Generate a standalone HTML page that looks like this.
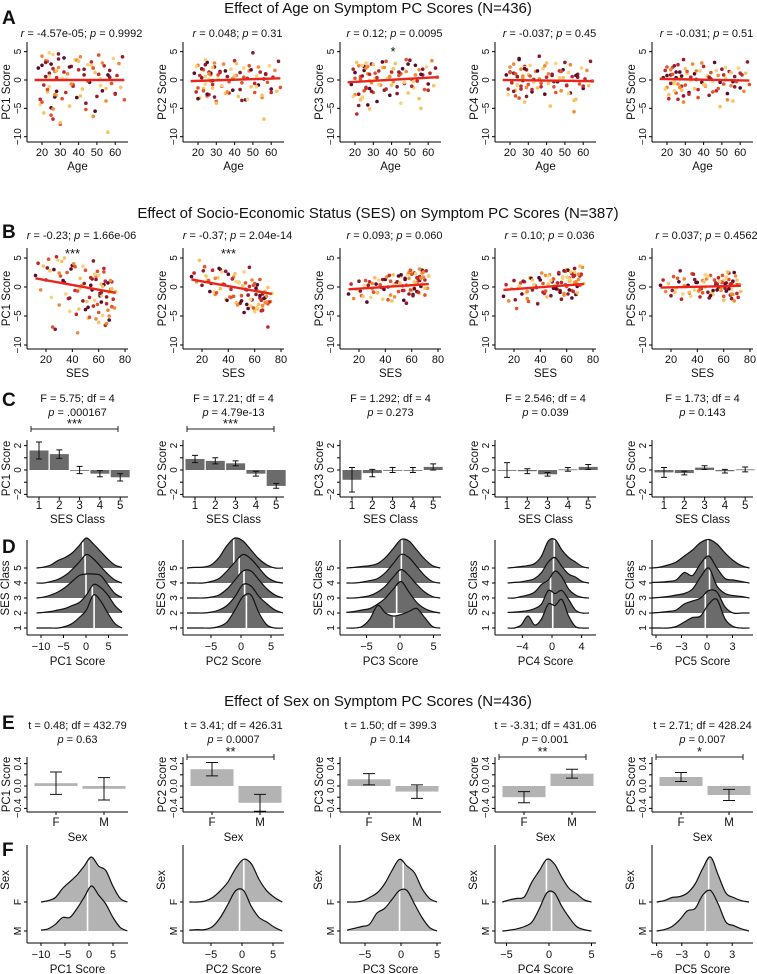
<!DOCTYPE html>
<html><head><meta charset="utf-8">
<style>
html,body{margin:0;padding:0;background:#fff;}
svg{display:block;font-family:"Liberation Sans",Arial,sans-serif;}
</style></head>
<body>
<svg id="fig" width="757" height="974" viewBox="0 0 757 974"></svg>
<script>
// ---------- DATA ----------
const pcNames=["PC1","PC2","PC3","PC4","PC5"];
const ages=[18,19,20,21,22,23,24,25,26,27,28,29,30,31,32,33,34,35,36,37,38,39,40,41,42,43,44,45,46,47,48,49,50,51,52,53,54,55,56,57,58,59,60,61,62,63,64,65,
 19,20,21,22,23,24,25,26,27,28,29,30,22,23,24,25,26,27,28,29,31,33,35,37,39,41,43,45,47,49,51,53,55,57,20,24,28,32,36,40,44,48,52,56,60,26,30,34];
const agePC1=[2.1,-3.4,4.2,-5.8,0.6,3.3,-1.2,2.8,-6.9,1.5,-2.7,4.6,-7.8,0.3,3.9,-2.2,1.1,-4.6,2.4,-0.8,3.6,-3.1,1.8,4.1,-1.6,0.9,-5.2,2.7,-0.4,3.2,-6.4,1.3,-2.9,4.4,0.2,-1.9,2.5,-3.7,-9.2,1.7,-0.6,3.8,-2.4,0.8,2.9,-1.3,4.1,-3.5,
 -4.3,2.6,-0.9,3.4,-2.1,1.2,-6.2,4.5,-3.0,0.4,2.2,-7.5,3.1,-1.7,0.7,-4.9,2.0,-2.6,1.6,3.7,-3.3,0.1,2.3,-1.1,3.5,-2.8,1.9,-0.2,2.6,-5.5,1.0,3.0,-1.5,0.5,-3.9,4.8,-2.0,1.4,-0.7,3.3,-4.1,2.1,-1.0,0.9,-2.5,-5.1];
const agePC2=[1.2,-2.1,2.6,-3.2,0.4,1.8,-0.7,3.1,-2.6,0.9,-1.4,2.3,-3.8,0.2,1.5,-1.1,2.8,-2.4,0.6,-0.3,1.9,-1.8,3.4,0.8,-2.9,1.3,-0.5,2.1,-3.5,0.3,1.6,-1.2,4.8,-2.2,0.7,-0.9,1.4,-3.1,-6.9,1.1,-0.4,2.5,-1.6,0.5,1.7,-2.0,3.3,-1.3,
 2.4,-3.3,0.8,1.9,-1.5,2.7,-2.8,0.1,1.2,-0.8,3.0,-4.1,2.0,-1.9,0.6,-2.5,1.4,-0.2,2.2,-3.0,0.9,-1.0,1.6,-2.3,0.3,2.9,-1.7,0.5,-3.4,1.8,-0.6,2.3,-2.7,1.0,-1.4,3.6,-0.1,1.3,-2.1,0.7,-3.6,2.5,-1.2,0.2,-2.2,1.1];
const agePC3=[-0.8,1.9,-2.6,3.1,-4.5,0.6,-3.2,2.4,-1.5,1.1,-5.1,2.8,-2.2,0.3,-3.8,1.6,-0.9,2.2,-1.8,3.3,0.4,-2.7,1.4,-0.3,2.9,-1.2,0.8,-4.1,2.0,-0.6,1.5,-2.3,3.5,0.1,-1.4,2.6,-0.2,1.8,-5.0,0.9,-1.7,2.3,-0.7,1.2,3.4,-1.0,2.1,0.5,
 -2.9,1.3,-6.0,2.5,-3.5,0.7,-1.9,3.0,-4.4,1.0,-0.5,2.7,-2.5,0.2,-3.0,1.7,-1.3,2.4,-0.1,-2.0,1.2,-0.8,3.2,-1.6,0.6,2.0,-2.4,1.1,-0.4,2.8,-1.1,0.9,-3.3,1.9,0.3,2.6,-1.5,0.4,2.2,-0.9,1.4,3.6,-0.3,1.0,-1.8,2.1];
const agePC4=[0.9,-1.6,2.3,-0.4,1.2,-2.8,0.3,3.6,-1.1,0.7,-3.9,1.8,-0.8,2.6,-2.1,0.1,1.5,-1.4,4.2,-0.6,2.0,-2.5,0.5,1.1,-4.6,0.8,-1.2,2.9,-0.3,1.6,-1.9,0.4,3.1,-0.9,1.3,-2.3,0.6,-5.6,-3.4,1.0,-0.7,2.1,-1.5,0.2,1.7,-1.0,3.3,-0.2,
 -2.6,1.4,-0.5,2.8,-1.8,0.6,-3.2,1.9,-0.1,2.4,-1.3,0.9,-2.0,1.1,-0.8,3.8,-1.6,0.3,2.2,-2.9,0.7,-0.4,1.6,-1.2,2.5,-0.6,1.0,-2.2,0.4,1.8,-1.0,2.7,-3.6,0.5,1.3,-0.9,2.0,-1.7,0.2,3.0,-0.3,1.5,-2.4,0.8,-1.1,1.9];
const agePC5=[0.4,1.7,-1.3,-2.6,0.9,2.2,-0.6,1.4,-3.4,0.2,-1.8,3.6,-0.9,1.1,-2.2,0.5,2.8,-1.5,0.1,-3.1,1.6,-0.4,2.4,-1.1,0.7,-2.7,1.3,-0.2,3.1,-1.9,0.8,-4.7,1.9,-0.7,0.3,-2.4,1.5,-1.0,-3.7,0.6,-0.3,2.1,-1.4,0.9,-2.0,1.2,3.2,-0.8,
 -1.6,0.8,-3.3,1.8,-0.5,2.5,-2.3,0.3,1.4,-1.1,-3.9,2.0,-0.6,1.0,-1.9,0.4,2.7,-1.3,0.6,-2.8,1.5,-0.1,1.1,-1.7,3.0,-0.9,0.5,-2.1,1.7,-0.4,0.9,-3.5,1.3,-1.2,2.3,-0.2,0.7,-2.5,1.6,-0.8,0.2,-1.5,2.2,-0.3,1.2,-0.7];
const ageFitStart=[0,-0.2,-0.4,0,0.2];
const ageFitEnd=[0,0.3,0.5,-0.2,-0.1];
const ageStats=["-4.57e-05","0.048","0.12","-0.037","-0.031"];
const ageP=["0.9992","0.31","0.0095","0.45","0.51"];
const ageStars=["","","*","",""];

const ses=[12,14,16,18,20,22,24,26,28,30,32,34,36,38,40,42,44,46,48,50,52,54,56,58,60,62,64,66,68,70,72,73,
 21,25,29,33,37,41,45,49,53,57,61,65,69,23,27,31,35,39,43,47,51,55,59,63,67,71,
 30,34,38,42,46,50,54,58,62,66,70,60,62,64,66,68,58,60,62,64,66,68,70,56,44,48,52,65,67,63,61,59,57,55,53,69,64,66];
const sesPC1=[2.0,4.1,-0.5,3.6,1.2,4.8,-1.8,3.0,5.2,-3.1,4.4,0.8,2.5,-4.2,3.7,-0.6,-7.9,1.5,-2.4,2.9,-5.4,0.3,-3.3,1.8,-6.1,-1.0,2.6,-2.8,-5.7,0.9,-3.6,-0.8,
 3.3,-6.9,4.6,1.1,-2.0,4.0,-3.8,0.6,-5.2,2.2,-1.5,-6.6,-0.4,2.8,-7.3,1.9,-1.2,3.1,-4.7,0.2,-2.5,1.4,-3.0,-4.9,0.7,-2.1,
 2.4,5.0,-1.9,3.5,-0.2,-3.9,1.6,-5.5,0.5,-1.7,-3.4,2.0,-2.6,3.2,-6.3,-0.9,1.3,-4.4,-1.4,0.4,-2.9,-5.0,-0.3,4.5,-0.7,3.6,-3.5,1.0,-4.0,0.1,-1.1,2.7,-2.3,-0.5,-1.8,1.1];
const sesPC2=[1.8,2.4,0.9,4.6,0.3,3.5,1.2,-0.8,2.9,-1.3,1.6,3.0,0.5,-2.1,2.2,-0.4,1.7,-2.7,0.8,-1.5,2.6,-3.0,0.1,-2.2,-3.9,-0.6,1.3,-3.4,-1.8,-6.9,-2.5,-1.1,
 2.8,1.1,-0.9,3.2,0.4,-1.7,2.3,-2.8,0.7,-3.3,-0.2,-4.1,-1.6,1.9,0.6,-1.0,2.6,-2.3,1.4,-3.1,0.2,-1.4,-3.6,-0.7,-2.0,-2.6,
 1.5,-0.3,2.7,-1.8,0.9,-2.4,-0.5,1.2,-3.8,-1.2,-2.9,-4.3,0.4,-1.9,-3.2,-0.8,-2.2,0.6,-3.5,-1.5,-4.0,-2.7,-0.1,3.4,-1.6,0.8,-4.4,-2.3,-0.9,-3.0,-1.3,0.3,-2.1,-3.7,-0.4,-2.6];
const sesPC3=[-1.2,0.5,-2.0,-0.4,1.0,-1.5,0.2,-2.6,0.9,-0.3,1.6,-1.0,0.4,-2.1,1.3,0.0,-1.4,2.1,0.6,-0.8,1.8,-2.3,0.3,1.5,-0.6,2.4,0.8,-1.1,2.9,1.2,-0.2,1.9,
 -0.7,1.1,-1.8,0.5,-0.1,1.7,-2.4,0.9,0.2,2.2,-1.3,1.4,2.6,-1.6,0.3,-0.9,1.2,-0.4,2.0,-1.7,0.7,1.5,-0.5,2.3,0.1,2.8,
 0.6,-1.0,1.3,-2.2,0.4,1.9,-0.6,2.5,0.0,1.1,-1.4,2.7,-0.3,1.6,3.1,0.5,-1.2,2.2,0.9,-0.8,1.8,2.4,-0.2,-2.8,1.0,0.3,2.1,-0.9,1.5,0.7,-1.5,2.9,0.2,1.3,-0.6,1.7];
const sesPC4=[-1.6,0.4,-2.4,-0.3,1.1,-3.7,0.2,-1.2,0.9,-2.0,1.6,-0.5,0.3,-2.8,1.2,-0.9,2.0,0.5,-1.5,1.4,-0.2,2.3,0.8,-1.1,3.0,1.5,-0.6,2.6,0.1,1.9,3.4,0.6,
 -2.2,0.7,-1.0,1.5,-0.1,2.4,-1.7,0.9,-0.4,1.8,2.9,-0.8,1.3,-0.3,1.0,-2.5,0.4,1.6,-1.1,2.1,0.2,-0.6,2.7,1.1,-1.3,2.2,
 -0.8,1.2,-2.9,0.6,1.9,-0.2,2.5,-1.4,1.0,3.2,0.3,1.7,-0.5,2.3,0.8,-1.0,2.8,0.1,1.4,-1.9,2.0,0.5,3.6,-2.1,-0.7,1.1,-0.3,1.8,0.9,2.6,-1.2,0.4,1.5,-0.9,0.7,2.2];
const sesPC5=[0.3,1.2,-0.8,0.6,-1.5,1.8,-0.2,0.9,-2.1,1.4,0.2,-1.0,2.3,-0.5,0.8,-1.7,1.1,0.0,-0.9,2.0,-1.3,0.5,1.6,-0.6,-2.3,0.7,1.3,-0.4,2.5,-1.1,0.4,-0.8,
 -0.6,1.5,-1.2,0.3,2.2,-0.7,0.9,-1.9,1.2,-0.2,0.6,-1.4,1.9,-0.9,2.8,0.1,-1.6,0.8,-0.3,1.4,-1.1,0.5,2.0,-0.5,1.0,-1.8,
 0.2,-0.9,1.3,-0.4,2.1,-1.5,0.7,-0.1,1.6,-2.0,0.4,1.1,-0.7,2.4,-1.2,0.3,0.9,-1.6,1.7,-0.3,0.6,-2.4,1.2,0.0,-1.0,1.8,-0.6,0.5,-1.3,2.6,-0.2,0.8,1.0,-0.5];
const sesFitStart=[1.5,1.3,-0.4,-0.5,-0.1];
const sesFitEnd=[-1,-1.2,0.5,0.5,0.2];
const sesR=["-0.23","-0.37","0.093","0.10","0.037"];
const sesP=["1.66e-06","2.04e-14","0.060","0.036","0.4562"];
const sesStars=["***","***","","",""];

const classes=[1,2,3,4,5];
const classMeans=[[1.6,1.3,0,-0.3,-0.6],[0.9,0.75,0.55,-0.3,-1.3],[-0.8,-0.25,0,0,0.25],[0,-0.1,-0.35,0.05,0.25],[-0.2,-0.25,0.2,-0.1,0.05]];
const classErr=[[0.7,0.35,0.3,0.25,0.3],[0.3,0.25,0.2,0.2,0.2],[1.0,0.3,0.2,0.2,0.25],[0.6,0.2,0.15,0.15,0.2],[0.4,0.15,0.15,0.15,0.2]];
const anovaF=["F = 5.75; df = 4","F =  17.21; df = 4","F = 1.292; df = 4","F =  2.546; df = 4","F = 1.73; df = 4"];
const anovaP=[".000167","4.79e-13","0.273","0.039","0.143"];
const anovaStars=["***","***","","",""];

const sesRidgeLo=[-11,-9,-8,-6,-6.5];
const sesRidgeHi=[8,7,6,5,5];
const sesRidges=[
 [[0,0,0,0,0.05,0.15,0.35,0.6,1.1,0.9,0.5,0.15,0],[0,0.02,0.05,0.1,0.15,0.25,0.35,0.6,0.95,0.85,0.6,0.25,0.03],[0,0.03,0.1,0.2,0.35,0.55,0.75,0.8,0.8,0.75,0.45,0.15,0.02],[0,0,0.05,0.12,0.25,0.45,0.7,0.95,0.8,0.55,0.3,0.1,0],[0,0.03,0.1,0.25,0.35,0.5,0.75,1,0.8,0.55,0.3,0.1,0.02]],
 [[0,0,0,0,0.05,0.2,0.6,1.05,1.1,0.5,0.1,0,0],[0,0,0,0.03,0.1,0.25,0.55,0.95,0.9,0.55,0.3,0.1,0],[0,0,0,0.03,0.1,0.3,0.6,0.9,0.9,0.6,0.3,0.1,0],[0,0,0,0.05,0.15,0.4,0.7,0.95,0.8,0.5,0.2,0.05,0],[0,0.02,0.03,0.1,0.35,0.75,1,0.9,0.6,0.3,0.1,0,0]],
 [[0,0,0.05,0.3,0.75,0.5,0.4,0.45,0.55,0.65,0.35,0.05,0],[0.02,0.05,0.1,0.15,0.3,0.5,0.8,1.05,0.7,0.35,0.15,0.05,0],[0,0,0.03,0.08,0.2,0.4,0.7,0.95,0.75,0.45,0.2,0.05,0],[0,0,0.03,0.08,0.15,0.35,0.65,0.95,0.85,0.55,0.25,0.05,0],[0,0.02,0.05,0.08,0.15,0.35,0.65,0.95,0.9,0.6,0.3,0.08,0]],
 [[0,0,0.1,0.4,0.1,0.3,0.8,0.75,0.95,0.4,0.05,0,0],[0.02,0.03,0.05,0.08,0.15,0.3,0.75,0.65,0.75,0.45,0.1,0,0],[0,0,0.05,0.1,0.2,0.45,0.6,0.9,0.7,0.3,0.1,0.02,0],[0,0.02,0.04,0.08,0.15,0.35,0.7,0.85,0.55,0.3,0.2,0.05,0],[0,0.02,0.05,0.08,0.15,0.4,0.9,0.95,0.6,0.35,0.2,0.05,0]],
 [[0,0,0,0.05,0.2,0.35,0.4,0.8,0.95,0.3,0.05,0,0],[0,0.02,0.05,0.1,0.3,0.4,0.5,0.75,0.7,0.2,0,0,0],[0,0.02,0.05,0.1,0.15,0.3,0.7,1.0,0.4,0.15,0.08,0.05,0],[0.02,0.03,0.05,0.1,0.35,0.25,0.65,0.9,0.5,0.15,0.1,0.05,0],[0,0.03,0.1,0.2,0.4,0.6,0.85,0.95,0.8,0.5,0.25,0.08,0]]
];
const sesMedians=[[1.8,1.4,0,-0.2,-0.7],[0.9,0.6,0.5,-0.3,-1.2],[-0.9,-0.5,0,0.2,0.3],[0.1,0,-0.2,0.2,0.3],[-0.2,-0.2,0.3,-0.2,0.1]];
const sesRidgeTicks=[[-10,-5,0,5],[-5,0,5],[-5,0,5],[-4,0,4],[-6,-3,0,3]];

const sexLevels=["F","M"];
const sexMeans=[[0.05,-0.05],[0.3,-0.3],[0.12,-0.1],[-0.2,0.22],[0.16,-0.16]];
const sexErr=[[0.2,0.2],[0.12,0.15],[0.1,0.12],[0.1,0.08],[0.08,0.1]];
const sexT=["t = 0.48; df = 432.79","t =  3.41; df = 426.31","t = 1.50; df = 399.3","t = -3.31; df = 431.06","t = 2.71; df = 428.24"];
const sexP=["0.63","0.0007","0.14","0.001","0.007"];
const sexStars=["","**","","**","*"];
const sexRidgeLo=[-10,-8.5,-7.5,-5.5,-6];
const sexRidgeHi=[8,6.5,5,5,5];
const sexRidges=[
 [[0,0.03,0.1,0.3,0.45,0.6,0.8,1,0.8,0.7,0.35,0.08,0],[0.02,0.05,0.15,0.3,0.3,0.5,0.75,1,0.8,0.6,0.3,0.08,0]],
 [[0,0,0.02,0.1,0.25,0.45,0.75,0.95,0.85,0.5,0.25,0.1,0],[0.02,0.03,0.03,0.1,0.3,0.6,0.9,0.9,0.55,0.3,0.2,0.08,0]],
 [[0,0,0.02,0.1,0.2,0.4,0.7,0.95,0.8,0.65,0.3,0.08,0],[0.02,0.06,0.1,0.15,0.4,0.5,0.7,0.9,0.9,0.6,0.3,0.08,0]],
 [[0,0.05,0.08,0.12,0.45,0.7,0.95,0.85,0.55,0.3,0.18,0.05,0],[0,0.02,0.05,0.1,0.2,0.5,0.85,0.85,0.55,0.3,0.1,0.03,0]],
 [[0,0.03,0.1,0.12,0.2,0.4,0.75,1.0,0.6,0.2,0.1,0.03,0],[0,0.03,0.1,0.25,0.45,0.5,0.8,0.9,0.6,0.2,0.12,0.05,0]]
];
const sexMedians=[[0,-0.3],[0.3,-0.4],[0.3,-0.2],[-0.3,0.3],[0.2,-0.2]];
const sexRidgeTicks=[[-10,-5,0,5],[-5,0,5],[-5,0,5],[-5,0,5],[-6,-3,0,3]];

const ageTicks=[20,30,40,50,60];
const sesTicks=[20,40,60,80];
const scoreTicks=[5,0,-5,-10];
const pointColors=["#5a0b2c","#c3262b","#f08a36","#f9c25c","#8e1a2e","#e4532c","#fbd27a"];

// ---------- GEOMETRY ----------
const colX=[27,183,340,495,652];
const W=101;
const svg=document.getElementById('fig');
const NS="http://www.w3.org/2000/svg";
function el(tag,attrs,parent){const e=document.createElementNS(NS,tag);for(const k in attrs)e.setAttribute(k,attrs[k]);(parent||svg).appendChild(e);return e;}
function txt(x,y,s,size,anchor,rot,parent){const t=el('text',{x:x,y:y,'font-size':size,'text-anchor':anchor||'middle',fill:'#111'},parent);if(rot)t.setAttribute('transform','rotate(-90 '+x+' '+y+')');t.textContent=s;return t;}
function line(x1,y1,x2,y2,stroke,w,parent){return el('line',{x1:x1,y1:y1,x2:x2,y2:y2,stroke:stroke||'#000','stroke-width':w||1},parent);}
function smoothPath(pts){let d='';for(let i=0;i<pts.length-1;i++){const p0=pts[Math.max(0,i-1)],p1=pts[i],p2=pts[i+1],p3=pts[Math.min(pts.length-1,i+2)];
 const c1=[p1[0]+(p2[0]-p0[0])/6,p1[1]+(p2[1]-p0[1])/6],c2=[p2[0]-(p3[0]-p1[0])/6,p2[1]-(p3[1]-p1[1])/6];
 d+=' C'+c1[0].toFixed(1)+','+c1[1].toFixed(1)+' '+c2[0].toFixed(1)+','+c2[1].toFixed(1)+' '+p2[0].toFixed(1)+','+p2[1].toFixed(1);}return d;}

function statLine(x,y,lbl,val,pval,parent){const t=el('text',{x:x,y:y,'font-size':11,'text-anchor':'middle',fill:'#111'},parent);
 const a=el('tspan',{'font-style':'italic'},t);a.textContent=lbl;const b=el('tspan',{},t);b.textContent=' = '+val+'; ';
 const c=el('tspan',{'font-style':'italic'},t);c.textContent='p';const d=el('tspan',{},t);d.textContent=' = '+pval;return t;}
function pLine(x,y,pval,parent){const t=el('text',{x:x,y:y,'font-size':11,'text-anchor':'middle',fill:'#111'},parent);
 const c=el('tspan',{'font-style':'italic'},t);c.textContent='p';const d=el('tspan',{},t);d.textContent=' = '+pval;return t;}

let t;
t=txt(378,13,"Effect of Age on Symptom PC Scores (N=436)",15);

t=txt(378,218,"Effect of Socio-Economic Status (SES) on Symptom PC Scores (N=387)",15);

t=txt(378,706,"Effect of Sex on Symptom PC Scores (N=436)",15);

const letters=[["A",24],["B",238],["C",406],["D",553],["E",729],["F",856]];
letters.forEach(L=>{const e=txt(2,L[1],L[0],19,'start');e.setAttribute('font-weight','bold');
 
 });

function scatterPanel(i,row){
 const x0=colX[i];
 const g=el('g',{});
 
 
 let top,bot,y0,ky,xs,ys,xf,ticks,xlab,fs,fe,xmin,xmax,statY;
 if(row==='age'){top=42;bot=142;y0=80;ky=5.67;xs=ages;ys=[agePC1,agePC2,agePC3,agePC4,agePC5][i];
  xf=a=>x0+15+(a-20)*1.83;ticks=ageTicks;xlab='Age';fs=ageFitStart[i];fe=ageFitEnd[i];xmin=16;xmax=65;statY=37;}
 else{top=248;bot=349;y0=287;ky=5.8;xs=ses;ys=[sesPC1,sesPC2,sesPC3,sesPC4,sesPC5][i];
  xf=s=>x0+19+(s-20)*1.317;ticks=sesTicks;xlab='SES';fs=sesFitStart[i];fe=sesFitEnd[i];xmin=12;xmax=73;statY=239;}
 const yf=v=>y0-v*ky;
 const cx=x0+W/2;
 let s=row==='age'?statLine(cx+4,statY,'r',ageStats[i],ageP[i],g):statLine(cx+4,statY,'r',sesR[i],sesP[i],g);
 
 
 const star=row==='age'?ageStars[i]:sesStars[i];
 if(star){const st=txt(row==='age'?x0+53:cx-5,statY+19,star,13,'middle',false,g);
  
  }
 const n=Math.min(xs.length,ys.length);
 for(let j=0;j<n;j++){const c=el('circle',{cx:xf(xs[j]).toFixed(1),cy:yf(ys[j]).toFixed(1),r:1.8,fill:pointColors[j%pointColors.length]},g);
  
  }
 const fit=line(xf(xmin),yf(fs),xf(xmax),yf(fe),'#e8261c',2.4,g);
 
 
 const ya=line(x0,top,x0,bot,'#000',1,g);
 
 const xa=line(x0,bot,x0+W,bot,'#000',1,g);
 
 scoreTicks.forEach(v=>{line(x0-3,yf(v),x0,yf(v),'#000',1,g);const tl=txt(x0-6,yf(v),v<0?'\u2212'+(-v):String(v),10,'middle',true,g);
  });
 ticks.forEach(v=>{line(xf(v),bot,xf(v),bot+3,'#000',1,g);const tl=txt(xf(v),bot+14,String(v),11,'middle',false,g);
  });
 const xt=txt(cx,bot+28,xlab,11.5,'middle',false,g);
 
 const yt=txt(x0-17,(top+bot)/2,pcNames[i]+' Score',11.5,'middle',true,g);
 
}

function barPanel(i,row){
 const x0=colX[i];
 const g=el('g',{});
 
 
 const cx=x0+W/2;
 let top,bot,yf,cats,means,errs,xf,bw,fill,tickVals,tickLbl,xlab,l1,pv,star,l1y,bry;
 if(row==='class'){top=440;bot=497;yf=v=>470-v*12.2;cats=classes;means=classMeans[i];errs=classErr[i];
  xf=k=>x0+12+(k-1)*20.3;bw=19;fill='#6b6b6b';tickVals=[2,1,0,-1,-2];tickLbl={'2':'2','0':'0','-2':'\u22122'};xlab='SES Class';
  l1=anovaF[i];pv=anovaP[i];star=anovaStars[i];l1y=402;bry=429;}
 else{top=757;bot=812;yf=v=>786-v*56;cats=sexLevels;means=sexMeans[i];errs=sexErr[i];
  xf=k=>x0+(k==='F'?29:77);bw=43;fill='#b3b3b3';tickVals=[0.4,0.2,0,-0.2,-0.4];tickLbl={'0.4':'0.4','0':'0.0','-0.4':'\u22120.4'};xlab='Sex';
  l1=sexT[i];pv=sexP[i];star=sexStars[i];l1y=729;bry=757;}
 const s1=txt(cx,l1y,l1,11,'middle',false,g);
 
 const s2=pLine(cx,l1y+14,pv,g);
 
 if(star){const b=line(x0+4,bry,x0+W-10,bry,'#222',1,g);
  
  line(x0+4,bry-3,x0+4,bry+3,'#222',1,g);line(x0+W-10,bry-3,x0+W-10,bry+3,'#222',1,g);
  const st=txt(x0+W/2-3,bry-1,star,13,'middle',false,g);
  }
 cats.forEach((c,j)=>{const m=means[j],e=errs[j];
  const r=el('rect',{x:(xf(c)-bw/2).toFixed(1),y:Math.min(yf(0),yf(m)).toFixed(1),width:bw,height:Math.max(0.8,Math.abs(yf(m)-yf(0))).toFixed(1),fill:fill},g);
  
  
  const ew=row==='class'?3:6;
  const eb=el('path',{d:'M'+(xf(c)-ew)+','+yf(m+e)+' H'+(xf(c)+ew)+' M'+xf(c)+','+yf(m+e)+' V'+yf(m-e)+' M'+(xf(c)-ew)+','+yf(m-e)+' H'+(xf(c)+ew),stroke:'#111','stroke-width':1,fill:'none'},g);
  
  
  line(xf(c),bot,xf(c),bot+3,'#000',1,g);
  const tl=txt(xf(c),bot+(row==='class'?12:14),String(c),11.5,'middle',false,g);
  });
 const ya=line(x0,top,x0,bot,'#000',1,g);
 
 const xa=line(x0,bot,x0+W,bot,'#000',1,g);
 
 tickVals.forEach(v=>{line(x0-3,yf(v),x0,yf(v),'#000',1,g);const lab=tickLbl[String(v)];
  if(lab){const tl=txt(x0-6,yf(v),lab,10,'middle',true,g);}});
 const xt=txt(cx,bot+(row==='class'?26:29),xlab,11.5,'middle',false,g);
 
 const yt=txt(x0-17,(top+bot)/2,pcNames[i]+' Score',11.5,'middle',true,g);
 
}

const sesZero=[59,58,60,57,55],sesScale=[4.5,6,6.7,7.4,8.5];
const sexZero=[62,59,61,54,55],sexScale=[4.8,6.2,7.2,8.5,8.4];
function ridgePanel(i,row){
 const x0=colX[i];
 const g=el('g',{});
 
 
 let top,bot,bases,ridges,meds,lo,hi,xf,ticks,fill,hscale,levels,ylab;
 if(row==='class'){top=540;bot=635;bases=[628,613,598,583,568];ridges=sesRidges[i];meds=sesMedians[i];lo=sesRidgeLo[i];hi=sesRidgeHi[i];
  xf=v=>x0+sesZero[i]+v*sesScale[i];ticks=sesRidgeTicks[i];fill='#6b6b6b';hscale=30;levels=classes;ylab='SES Class';}
 else{top=845;bot=943;bases=[902,931];ridges=sexRidges[i];meds=sexMedians[i];lo=sexRidgeLo[i];hi=sexRidgeHi[i];
  xf=v=>x0+sexZero[i]+v*sexScale[i];ticks=sexRidgeTicks[i];fill='#b3b3b3';hscale=45;levels=sexLevels;ylab='Sex';}
 const n=ridges[0].length,step=(hi-lo)/(n-1);
 const order=bases.map((b,k)=>k).sort((a,b)=>bases[a]-bases[b]);
 order.forEach(k=>{const base=bases[k],h=ridges[k];
  const pts=h.map((v,j)=>[xf(lo+j*step),base-v*hscale]);
  const curve='M'+pts[0][0].toFixed(1)+','+pts[0][1].toFixed(1)+smoothPath(pts);
  const f=el('path',{d:curve+' L'+pts[n-1][0].toFixed(1)+','+base+' L'+pts[0][0].toFixed(1)+','+base+' Z',fill:fill,stroke:'none'},g);
  
  
  const m=meds[k];const fj=(m-lo)/step;const j0=Math.floor(fj),fr=fj-j0;const hv=h[j0]*(1-fr)+h[Math.min(n-1,j0+1)]*fr;
  const ml=line(xf(m),base,xf(m),base-hv*hscale,'#fff',1.6,g);
  
  
  const o=el('path',{d:curve,fill:'none',stroke:'#111','stroke-width':1.2},g);
  
  
  line(x0-3,base,x0,base,'#000',1,g);
  const tl=txt(x0-6,base,String(levels[k]),10.5,'middle',true,g);
  });
 const ya=line(x0,top,x0,bot,'#000',1,g);
 
 const xa=line(x0,bot,x0+W,bot,'#000',1,g);
 
 ticks.forEach(v=>{line(xf(v),bot,xf(v),bot+3,'#000',1,g);const tl=txt(xf(v),bot+15,v<0?'\u2212'+(-v):String(v),11,'middle',false,g);
  });
 const xt=txt(x0+W/2,bot+30,pcNames[i]+' Score',11.5,'middle',false,g);
 
 const yt=txt(x0-18,row==='class'?588:880,ylab,11.5,'middle',true,g);
 
}

for(let i=0;i<5;i++){scatterPanel(i,'age');scatterPanel(i,'ses');barPanel(i,'class');ridgePanel(i,'class');barPanel(i,'sex');ridgePanel(i,'sex');}
</script>
</body></html>
